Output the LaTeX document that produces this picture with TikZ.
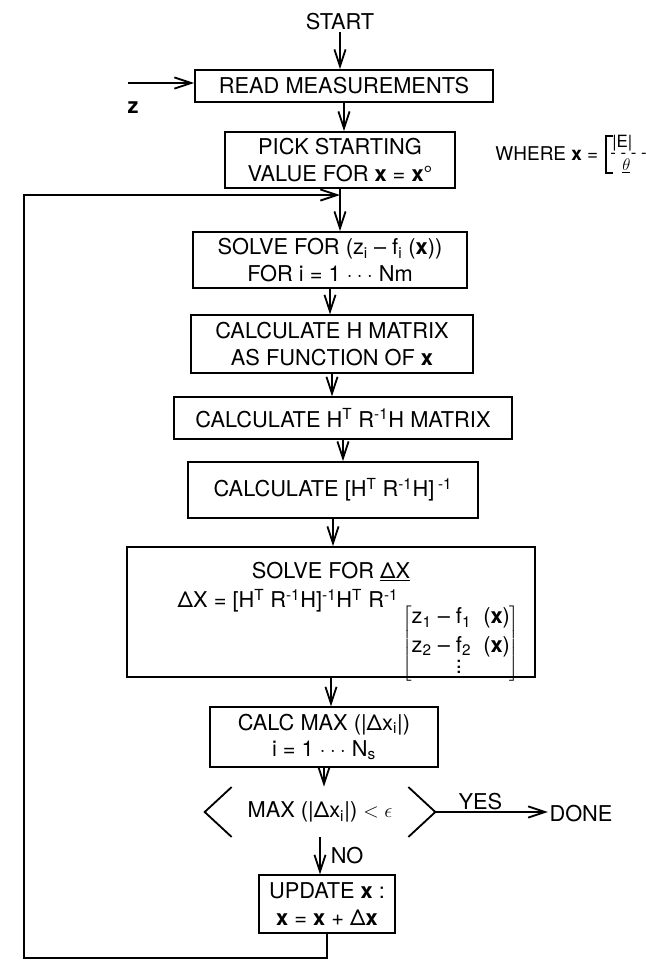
\documentclass[tikz,border=0pt]{standalone}
\usepackage{fontspec}
\setmainfont{TeX Gyre Heros}
\usetikzlibrary{arrows.meta,positioning,calc}
\tikzset{
  >={Straight Barb[length=4.2mm,width=2.8mm]},
  box/.style={draw,line width=1.3pt,align=center,inner sep=2pt,font=\fontsize{15.5}{19}\selectfont},
  lbl/.style={align=center,inner sep=1pt,font=\fontsize{15.5}{19}\selectfont},
  small/.style={inner sep=0pt,font=\fontsize{12}{12}\selectfont},
  flow/.style={->,line width=1.3pt}
}

\begin{document}
\begin{tikzpicture}[x=0.025cm,y=-0.025cm]
\useasboundingbox (0,0) rectangle (646,963);
\clip (0,0) rectangle (646,963);
% main column
\node[lbl](start)at(340,22){START};
\node[box,minimum width=7.45cm,minimum height=0.8cm](read)at(344,86){READ MEASUREMENTS};
\node[box,minimum width=5.75cm,minimum height=1.4cm](pick)at(340,160){PICK STARTING\\VALUE FOR \textbf{x} = \textbf{x}°};
\node[box,minimum width=6.83cm,minimum height=1.4cm](solve)at(330,260){SOLVE FOR (z\textsubscript{i} -- f\textsubscript{i} (\textbf{x}))\\FOR i = 1 $\cdot\cdot\cdot$ Nm};
\node[box,minimum width=7.05cm,minimum height=1.43cm](calch)at(332,344){CALCULATE H MATRIX\\AS FUNCTION OF \textbf{x}};
\node[box,minimum width=8.43cm,minimum height=1.03cm](hrh)at(343,418){CALCULATE H\textsuperscript{T} R\textsuperscript{-1}H MATRIX};
\node[box,minimum width=7.23cm,minimum height=1.4cm](inv)at(333,490){CALCULATE [H\textsuperscript{T} R\textsuperscript{-1}H]\,\textsuperscript{-1}};
\node[box,minimum width=10.18cm,minimum height=3.25cm](dx)at(331,612){};
\node[lbl](dxtitle)at(331,572){SOLVE FOR \underline{ΔX}};
\node[lbl,anchor=east](dxeq)at(400,601){ΔX = [H\textsuperscript{T} R\textsuperscript{-1}H]\textsuperscript{-1}H\textsuperscript{T} R\textsuperscript{-1}};
\node[lbl,anchor=north west,inner sep=0pt](dxvec)at(402,605){$\left[\begin{tabular}{@{}l@{}}z\textsubscript{1} -- f\textsubscript{1}~~(\textbf{x})\\[1pt]z\textsubscript{2} -- f\textsubscript{2}~~(\textbf{x})\\[-6pt]\phantom{z\textsubscript{2} -- }$\vdots$\end{tabular}\right]$};
\node[box,minimum width=5.68cm,minimum height=1.48cm](cmax)at(324,737){CALC MAX (|Δx\textsubscript{i}|)\\i = 1 $\cdot\cdot\cdot$ N\textsubscript{s}};
\node[lbl,minimum width=5.75cm,minimum height=1.25cm](test)at(320,812){MAX (|Δx\textsubscript{i}|) $<\epsilon$};
\draw[line width=1.3pt](test.west)++(27,-25)--++(-27,25)--++(27,25);
\draw[line width=1.3pt](test.east)++(-27,-25)--++(27,25)--++(-27,25);
\node[lbl](done)at(581,814){DONE};
\node[box,minimum width=3.38cm,minimum height=1.43cm](upd)at(327,904){UPDATE \textbf{x} :\\\textbf{x} = \textbf{x} + Δ\textbf{x}};
% side notes
\coordinate(zin)at(128,83);
\node[lbl](zlab)at(133,108){\textbf{z}};
\node[lbl,anchor=east,font=\fontsize{13.5}{16}\selectfont](where)at(600,154){WHERE \textbf{x} =};
\draw[line width=1pt](613,136)--(606,136)--(606,173)--(613,173);
\node[small,anchor=west](xtop)at(612,143){|E|};
\node[small,anchor=west](xmid)at(610,156){- - - - -};
\node[small,anchor=west](xbot)at(622,166){\underline{$\theta$}};
% connectors
\draw[flow](start.south)--(start.south|-read.north);
\draw[flow](zin)--(zin-|read.west);
\draw[flow](read.south)--(read.south|-pick.north);
\draw[flow](pick.south)--(pick.south|-solve.north);
\draw[flow](solve.south)--(solve.south|-calch.north);
\draw[flow](calch.south)--(calch.south|-hrh.north);
\draw[flow](hrh.south)--(hrh.south|-inv.north);
\draw[flow](inv.south)--(inv.south|-dx.north);
\draw[flow](dx.south)--(dx.south|-cmax.north);
\draw[flow](cmax.south)--(cmax.south|-test.north);
\draw[flow](test.east)--(test.east-|done.west)node[lbl,pos=0.4,above]{YES};
\draw[flow](test.south)--(test.south|-upd.north)node[lbl,midway,right=6pt]{NO};
% loop back
\coordinate(lowleft)at(24,958);
\coordinate(upleft)at(24,195);
\coordinate(join)at(pick.south|-upleft);
\draw[flow](upd.south)--(upd.south|-lowleft)--(lowleft)--(upleft)--(join);
\end{tikzpicture}
\end{document}
